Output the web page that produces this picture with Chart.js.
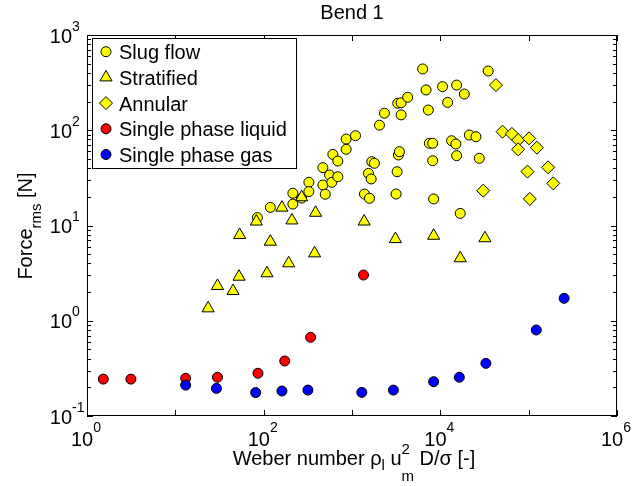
<!DOCTYPE html>
<html>
<head>
<meta charset="utf-8">
<script src="https://cdn.jsdelivr.net/npm/chart.js@4.4.1/dist/chart.umd.min.js"></script>
<style>
  html, body { margin: 0; padding: 0; background: #fff; }
  #wrap { width: 644px; height: 486px; }
</style>
</head>
<body>
<div id="wrap"><canvas id="chart" width="644" height="486"></canvas></div>
<script>
/* global Chart */

// Weber number (x) and rms force in N (y)
const slugX = [84.9, 119, 214, 214, 269, 325, 325, 468, 468, 498, 557, 591, 691, 607, 691, 859, 859, 1096,
  1384, 1577, 1536, 1648, 1675, 1795, 2046, 2329, 3296, 3598, 3598, 4271, 3157, 3243, 3353, 3441,
  6310, 6890, 7310, 7510, 8190, 8190, 8400, 10600, 12100, 13400, 15000, 15300, 15300, 18700, 16800,
  21300, 25300, 27600, 34800];
const slugY = [12.1, 15.5, 21.8, 16.8, 19.4, 28.4, 22.7, 40.5, 26.6, 21.3, 33.9, 28.4, 32.5, 55.8, 47.5, 80.9, 63.1, 87.7,
  21.4, 19.3, 35.3, 30.8, 46.8, 45, 113, 151, 192, 194, 145, 222, 21.4, 36.7, 55, 59.6,
  440, 265, 163, 73, 73, 47.9, 19, 287, 196, 77.6, 71.7, 54.1, 298, 240, 13.4,
  89.1, 85.5, 50.8, 419];

const stratX = [23.5, 30, 45, 52.6, 53.5, 82.7, 109, 119, 161, 192, 209, 269, 377, 387, 1373, 3100, 8400, 16800, 32000];
const stratY = [1.35, 2.32, 2.05, 2.9, 7.94, 11, 3.15, 6.76, 15.4, 4.01, 11.3, 19.8, 5.1, 13.6, 11, 7.2, 7.8, 4.53, 7.35];

const annX = [30600, 42600, 50600, 64600, 76000, 76000, 101000, 97000, 103000, 124000, 166000, 190000];
const annY = [23.2, 298, 96.6, 91.5, 79, 63.1, 82.2, 36.8, 19, 65.6, 40.8, 27.7];

const liqX = [1.53, 3.14, 13.1, 30, 86.2, 173, 340, 1349];
const liqY = [0.244, 0.244, 0.249, 0.255, 0.281, 0.378, 0.670, 3.02];

const gasX = [13.1, 29.2, 81.2, 161, 317, 1291, 2944, 8400, 16400, 32800, 122000, 252000];
const gasY = [0.211, 0.195, 0.176, 0.183, 0.187, 0.177, 0.187, 0.229, 0.255, 0.357, 0.80, 1.72];

const seriesNames = ["Slug flow", "Stratified", "Annular", "Single phase liquid", "Single phase gas"];
const xDecades = [0, 1, 2, 3, 4, 5, 6];
const xLabelDecades = [0, 2, 4, 6];
const yDecades = [-1, 0, 1, 2, 3];

const FONT = '"Liberation Sans", Arial, sans-serif';
const f = (px) => px + "px " + FONT;

function pts(xs, ys) {
  return xs.map((x, i) => ({ x, y: ys[i] }));
}

// text runs with sub/superscripts: [{t, size, dy, keep}] keep = don't advance
function runWidth(ctx, parts) {
  let w = 0;
  parts.forEach((p) => {
    ctx.font = f(p.size);
    if (!p.keep) w += ctx.measureText(p.t).width;
  });
  return w;
}
function drawRun(ctx, parts, x, y) {
  parts.forEach((p) => {
    ctx.font = f(p.size);
    ctx.fillText(p.t, x, y + (p.dy || 0));
    if (!p.keep) x += ctx.measureText(p.t).width;
  });
}

function drawMarker(ctx, kind, x, y, color) {
  ctx.save();
  ctx.lineWidth = 1;
  ctx.strokeStyle = "#000";
  ctx.fillStyle = color;
  ctx.beginPath();
  if (kind === "circle") {
    ctx.arc(x, y, 5, 0, Math.PI * 2);
  } else if (kind === "triangle") {
    const r = 7;
    ctx.moveTo(x, y - r);
    ctx.lineTo(x + r * Math.sin(2 * Math.PI / 3), y + r / 2);
    ctx.lineTo(x - r * Math.sin(2 * Math.PI / 3), y + r / 2);
    ctx.closePath();
  } else {
    const r = 6.5;
    ctx.moveTo(x - r, y); ctx.lineTo(x, y - r); ctx.lineTo(x + r, y); ctx.lineTo(x, y + r);
    ctx.closePath();
  }
  ctx.fill(); ctx.stroke();
  ctx.restore();
}

const axesDecor = {
  id: "axesDecor",
  afterDatasetsDraw(chart) {
    const ctx = chart.ctx;
    const { left, right, top, bottom } = chart.chartArea;
    const sx = chart.scales.x, sy = chart.scales.y;
    ctx.save();
    ctx.strokeStyle = "#000";
    ctx.lineWidth = 1;
    ctx.strokeRect(left + 0.5, top + 0.5, right - left - 1, bottom - top - 1);

    ctx.beginPath();
    // x ticks (decades only), bottom and top
    xDecades.forEach((e) => {
      const px = Math.round(sx.getPixelForValue(Math.pow(10, e))) + 0.5;
      ctx.moveTo(px, bottom); ctx.lineTo(px, bottom - 6);
      ctx.moveTo(px, top); ctx.lineTo(px, top + 6);
    });
    // y ticks with minors, left and right
    yDecades.forEach((e) => {
      for (let k = 1; k <= 9; k++) {
        if (e === 3 && k > 1) break;
        const py = Math.round(sy.getPixelForValue(k * Math.pow(10, e))) + 0.5;
        const len = k === 1 ? 6 : 4;
        ctx.moveTo(left, py); ctx.lineTo(left + len, py);
        ctx.moveTo(right, py); ctx.lineTo(right - len, py);
      }
    });
    ctx.stroke();

    ctx.fillStyle = "#000";
    ctx.textBaseline = "alphabetic";
    ctx.textAlign = "left";

    // x tick labels 10^n
    xLabelDecades.forEach((e) => {
      const px = sx.getPixelForValue(Math.pow(10, e));
      const parts = [{ t: "10", size: 20 }, { t: String(e), size: 14, dy: -14 }];
      const w = runWidth(ctx, parts);
      drawRun(ctx, parts, px - w / 2 - 1, bottom + 30);
    });
    // y tick labels 10^n, "10" right edge fixed
    yDecades.forEach((e) => {
      const py = sy.getPixelForValue(Math.pow(10, e));
      ctx.font = f(20);
      const w10 = ctx.measureText("10").width;
      drawRun(ctx, [{ t: "10", size: 20 }, { t: String(e), size: 14, dy: -12 }],
        72 - w10, py + 7.5);
    });

    // title
    ctx.font = f(20);
    ctx.textAlign = "center";
    ctx.fillText("Bend 1", (left + right) / 2, 19);
    ctx.textAlign = "left";

    // x-axis title
    const xt = [
      { t: "Weber number \u03c1", size: 20 },
      { t: "l", size: 15, dy: 5 },
      { t: " u", size: 20 },
      { t: "2", size: 15, dy: -11, keep: true },
      { t: "m", size: 15, dy: 16 },
      { t: " D/\u03c3 [-]", size: 20 },
    ];
    const xw = runWidth(ctx, xt);
    drawRun(ctx, xt, (left + right) / 2 + 2 - xw / 2, 465);

    // y-axis title, rotated
    const yt = [
      { t: "Force", size: 20 },
      { t: "rms", size: 15, dy: 9 },
      { t: " [N]", size: 20 },
    ];
    const yw = runWidth(ctx, yt);
    ctx.save();
    ctx.translate(32, 226);
    ctx.rotate(-Math.PI / 2);
    drawRun(ctx, yt, -yw / 2, 0);
    ctx.restore();

    // legend box
    const lx = 92, ly = 38, lw = 204, lh = 130;
    ctx.fillStyle = "#fff";
    ctx.fillRect(lx, ly, lw, lh);
    ctx.strokeRect(lx + 0.5, ly + 0.5, lw, lh);
    const kinds = ["circle", "triangle", "diamond", "circle", "circle"];
    const colors = ["#ffff00", "#ffff00", "#ffff00", "#ff0000", "#0000ff"];
    seriesNames.forEach((name, i) => {
      const ry = 51.7 + i * 25.7;
      drawMarker(ctx, kinds[i], 106, ry, colors[i]);
      ctx.fillStyle = "#000";
      ctx.font = f(20);
      ctx.fillText(name, 119, ry + 7.5);
    });
    ctx.restore();
  },
};

const base = { borderColor: "#000", borderWidth: 1, pointHoverRadius: 5 };

new Chart(document.getElementById("chart"), {
  type: "scatter",
  data: {
    datasets: [
      { ...base, label: seriesNames[0], data: pts(slugX, slugY), backgroundColor: "#ffff00", pointStyle: "circle", pointRadius: 5, order: 5 },
      { ...base, label: seriesNames[1], data: pts(stratX, stratY), backgroundColor: "#ffff00", pointStyle: "triangle", pointRadius: 7, order: 4 },
      { ...base, label: seriesNames[2], data: pts(annX, annY), backgroundColor: "#ffff00", pointStyle: "rectRot", pointRadius: 6.5, order: 3 },
      { ...base, label: seriesNames[3], data: pts(liqX, liqY), backgroundColor: "#ff0000", pointStyle: "circle", pointRadius: 5, order: 2 },
      { ...base, label: seriesNames[4], data: pts(gasX, gasY), backgroundColor: "#0000ff", pointStyle: "circle", pointRadius: 5, order: 1 },
    ],
  },
  options: {
    responsive: false,
    animation: false,
    layout: { padding: { left: 87, top: 35, right: 27, bottom: 70 } },
    scales: {
      x: { type: "logarithmic", min: 1, max: 1e6, display: false },
      y: { type: "logarithmic", min: 0.1, max: 1000, display: false },
    },
    plugins: { legend: { display: false }, tooltip: { enabled: false } },
  },
  plugins: [axesDecor],
});
</script>
</body>
</html>
